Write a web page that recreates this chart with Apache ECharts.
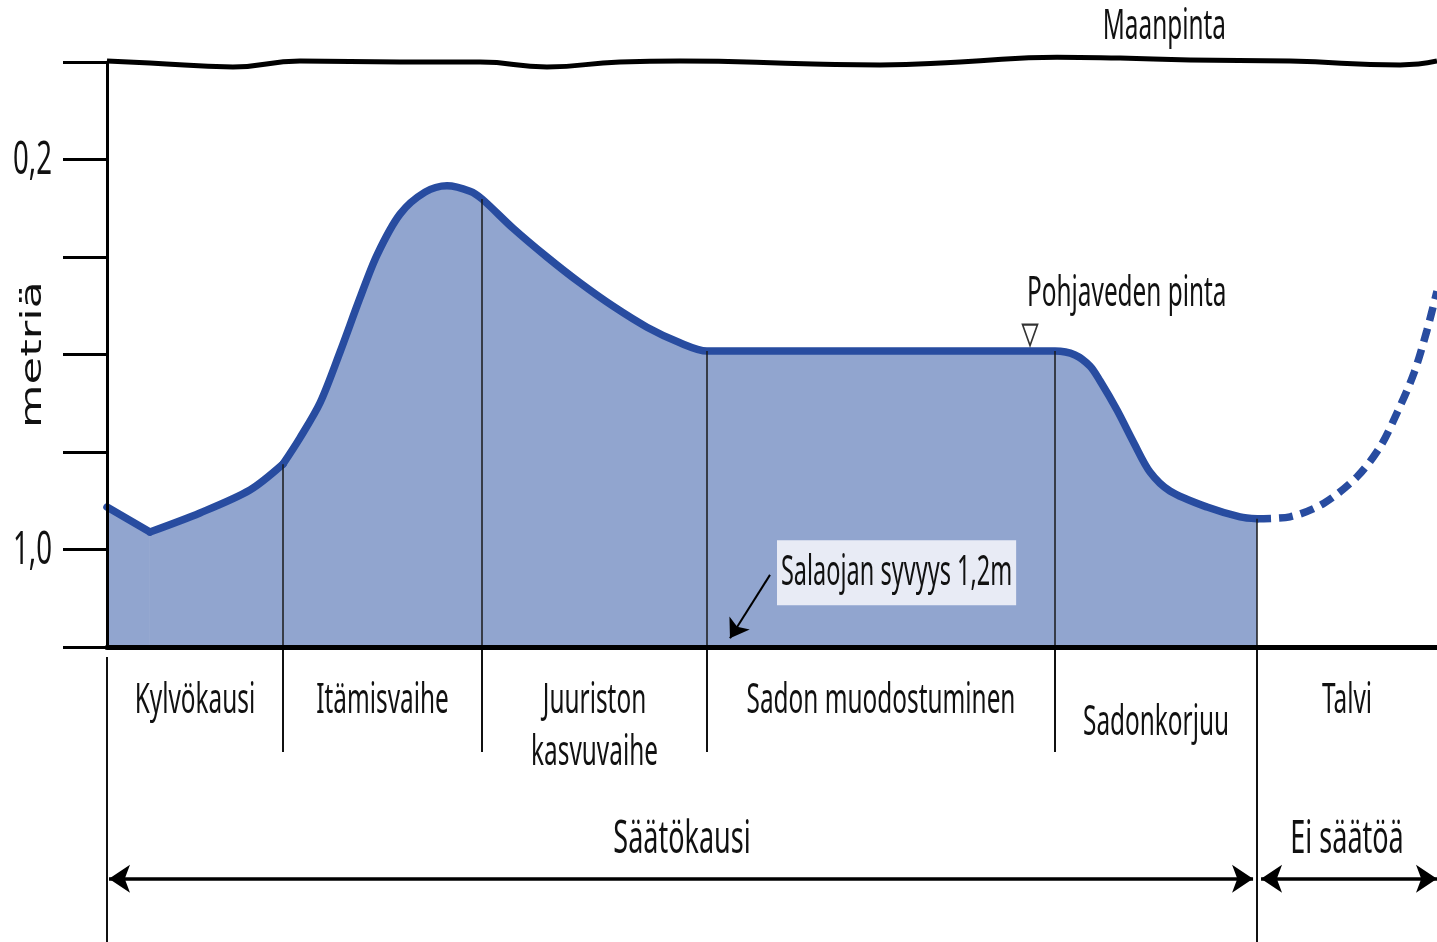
<!DOCTYPE html>
<html>
<head>
<meta charset="utf-8">
<script src="https://cdn.jsdelivr.net/npm/echarts@6/dist/echarts.min.js"></script>
<style>
html,body{margin:0;padding:0;background:#fff;}
#c{width:1437px;height:942px;}
</style>
</head>
<body>
<div id="c"></div>
<script>
// ================= DATA =================
// x: position along the year (0 = start of sowing, 100 = right edge of the diagram)
// y: depth below the ground surface in metres
const phaseBounds = [0, 13.23, 28.20, 45.11, 71.28, 86.47, 100];
const phaseNames = ['Kylvökausi', 'Itämisvaihe', 'Juuriston\nkasvuvaihe', 'Sadon muodostuminen', 'Sadonkorjuu', 'Talvi'];
const seasonNames = ['Säätökausi', 'Ei säätöä'];
const depthTicks = [0, 0.2, 0.4, 0.6, 0.8, 1.0, 1.2];
const depthTickLabels = ['', '0,2', '', '', '', '1,0', ''];
const depthTitle = 'metriä';
const groundLabel = 'Maanpinta';
const waterLabel = 'Pohjaveden pinta';
const drainLabel = 'Salaojan syvyys 1,2m';

// ground surface (slightly wavy line at depth 0)
const groundSurface = [
  [0, -0.002], [3.23, 0.002], [9.47, 0.010], [14.51, -0.002], [22.03, 0], [28.05, 0],
  [33.08, 0.010], [38.57, 0], [43.08, -0.002], [53.08, 0.004], [58.12, 0.006], [64.14, 0],
  [71.43, -0.010], [76.17, -0.008], [81.43, -0.004], [88.95, -0.002], [97.22, 0.006], [100, -0.002]
];
// water table during the controlled season (solid line, filled)
const waterTable = [
  [0, 0.913], [3.23, 0.964], [6.99, 0.925], [10.75, 0.878], [13.23, 0.825],
  [14.51, 0.771], [16.02, 0.699], [17.52, 0.595], [19.02, 0.484], [20.30, 0.396],
  [22.03, 0.312], [23.91, 0.267], [25.56, 0.254], [27.29, 0.265], [28.20, 0.281],
  [30.53, 0.341], [33.08, 0.400], [35.56, 0.453], [38.05, 0.501], [40.60, 0.544],
  [43.08, 0.576], [45.11, 0.593], [46.09, 0.593], [71.28, 0.593], [72.78, 0.601],
  [73.91, 0.624], [74.66, 0.654], [75.94, 0.714], [77.22, 0.782], [78.42, 0.841],
  [79.92, 0.880], [82.71, 0.913], [85.19, 0.933], [86.47, 0.937]
];
// corners (non-smooth points) of the water-table curve
const waterTableCorners = [3.23, 13.23];
// water table in winter (dashed, no regulation)
const waterTableWinter = [
  [86.47, 0.937], [88.95, 0.933], [91.50, 0.905], [93.98, 0.851], [95.71, 0.790],
  [96.99, 0.720], [98.27, 0.638], [99.25, 0.550], [100, 0.470]
];
const waterMarkX = 69.4;          // ▽ symbol on the water table
const drainDepth = 1.2;           // depth of the drain (m)
const drainArrow = [[49.85, 1.052], [46.84, 1.182]];
const groundLabelX = 79.5;

// ================= STYLE / LAYOUT =================
const BLUE = '#284ca0';
const FILL = '#91a5cf';
const BOX = '#e8ebf5';
const INK = '#111';
const FONT = '"Noto Sans", sans-serif';
const SX = 0.58;                  // horizontal condensation of the lettering
// lower panel (grid 1) has a hidden 0..10 vertical scale
const LOW = { labelRow: 1.84, lineStep: 1.76, drop: [0, 0, 0, 0, 0.74, 0], shortDiv: 3.56, seasonRow: 6.55, arrowRow: 7.86, leftStart: 0.34, bottom: 10, arrowInset: 0.15 };

const levelAt = x => { const p = waterTable.find(d => d[0] === x); return p ? p[1] : drainDepth; };

function splitAt(data, xs) {
  const parts = []; let cur = [];
  data.forEach(p => { cur.push(p); if (xs.includes(p[0])) { parts.push(cur); cur = [p]; } });
  if (cur.length > 1) parts.push(cur);
  return parts;
}

const waterSeries = splitAt(waterTable, waterTableCorners).map(part => ({
  type: 'line', xAxisIndex: 0, yAxisIndex: 0, data: part, smooth: part.length > 2 ? 0.3 : false,
  symbol: 'none', z: 3, silent: true,
  lineStyle: { color: BLUE, width: 7.5, cap: 'round', join: 'round' },
  areaStyle: { color: FILL, opacity: 1, origin: 'end' }
}));

const innerBounds = phaseBounds.slice(1, -1);

const option = {
  animation: false,
  backgroundColor: '#fff',
  grid: [
    { left: 107, right: 0, top: 62, height: 585 },
    { left: 107, right: 0, top: 647, bottom: 0 }
  ],
  xAxis: [
    { type: 'value', gridIndex: 0, min: 0, max: 100, z: 10,
      axisLine: { show: true, onZero: false, lineStyle: { color: '#000', width: 5 } },
      axisTick: { show: false }, axisLabel: { show: false }, splitLine: { show: false } },
    { type: 'value', gridIndex: 1, min: 0, max: 100, show: false }
  ],
  yAxis: [
    { type: 'value', gridIndex: 0, min: 0, max: 1.2, interval: 0.2, inverse: true, z: 10,
      axisLine: { show: true, onZero: false, lineStyle: { color: '#000', width: 3 } },
      axisTick: { show: true, length: 44, lineStyle: { color: '#000', width: 3 } },
      axisLabel: { show: false }, splitLine: { show: false } },
    { type: 'value', gridIndex: 1, min: 0, max: LOW.bottom, inverse: true, show: false }
  ],
  series: [
    { type: 'line', xAxisIndex: 0, yAxisIndex: 0, data: groundSurface, smooth: 0.5, symbol: 'none',
      clip: false, z: 4, silent: true, lineStyle: { color: '#000', width: 5 } },
    ...waterSeries,
    { type: 'line', xAxisIndex: 0, yAxisIndex: 0, data: waterTableWinter, smooth: 0.3, symbol: 'none',
      z: 3, silent: true, lineStyle: { color: BLUE, width: 7.5, type: [14, 8] } },
    // phase dividers inside the filled area
    { type: 'lines', coordinateSystem: 'cartesian2d', xAxisIndex: 0, yAxisIndex: 0, z: 5, silent: true,
      lineStyle: { color: '#1a1a1a', width: 1.5, opacity: 1 },
      data: innerBounds.map(b => ({ coords: [[b, levelAt(b)], [b, drainDepth]] })) },
    // ▽ water-table mark
    { type: 'scatter', xAxisIndex: 0, yAxisIndex: 0, data: [[waterMarkX, levelAt(71.28)]], z: 6, silent: true,
      symbol: 'triangle', symbolRotate: 180, symbolSize: [15, 21], symbolOffset: [0, -16],
      itemStyle: { color: '#fff', borderColor: '#000', borderWidth: 1.8 } },
    // drain depth arrow
    { type: 'lines', coordinateSystem: 'cartesian2d', xAxisIndex: 0, yAxisIndex: 0, z: 6, silent: true,
      symbol: ['none', 'arrow'], symbolSize: 18,
      lineStyle: { color: '#000', width: 2, opacity: 1 },
      data: [{ coords: drainArrow }] },
    // phase dividers below the axis
    { type: 'lines', coordinateSystem: 'cartesian2d', xAxisIndex: 1, yAxisIndex: 1, z: 5, silent: true,
      lineStyle: { color: INK, width: 2, opacity: 1 },
      data: [
        ...innerBounds.slice(0, -1).map(b => ({ coords: [[b, 0], [b, LOW.shortDiv]] })),
        { coords: [[phaseBounds[0], LOW.leftStart], [phaseBounds[0], LOW.bottom]] },
        { coords: [[phaseBounds[5], 0], [phaseBounds[5], LOW.bottom]] }
      ] },
    // season arrows
    { type: 'lines', coordinateSystem: 'cartesian2d', xAxisIndex: 1, yAxisIndex: 1, z: 5, silent: true,
      clip: false, symbol: ['arrow', 'arrow'], symbolSize: 21,
      lineStyle: { color: '#000', width: 3.5, opacity: 1 },
      data: [
        { coords: [[phaseBounds[0] + LOW.arrowInset, LOW.arrowRow], [phaseBounds[5] - LOW.arrowInset * 2, LOW.arrowRow]] },
        { coords: [[phaseBounds[5] + LOW.arrowInset * 2, LOW.arrowRow], [phaseBounds[6], LOW.arrowRow]] }
      ] }
  ]
};

const chart = echarts.init(document.getElementById('c'), null, { renderer: 'canvas' });
chart.setOption(option);

const P0 = p => chart.convertToPixel({ xAxisIndex: 0, yAxisIndex: 0 }, p);
const P1 = p => chart.convertToPixel({ xAxisIndex: 1, yAxisIndex: 1 }, p);

function label(pt, text, o = {}) {
  const size = o.size || 42;
  const style = {
    text, x: 0, y: 0,
    font: `${size}px ${o.family || FONT}`,
    fill: INK,
    align: o.align || 'center', textAlign: o.align || 'center',
    verticalAlign: 'middle', textVerticalAlign: 'middle'
  };
  if (o.lineHeight) style.lineHeight = o.lineHeight;
  if (o.bg) { style.backgroundColor = o.bg; style.padding = o.padding; }
  return { type: 'text', x: pt[0] + (o.dx || 0), y: pt[1] + (o.dy || 0), z: 50, silent: true,
           scaleX: o.scaleX || SX, rotation: o.rotation || 0, style };
}

const g = [];
// depth tick labels
depthTicks.forEach((v, i) => {
  if (depthTickLabels[i]) g.push(label(P0([0, v]), depthTickLabels[i], { size: 46, align: 'right', dx: -55, dy: 1, scaleX: 0.6 }));
});
// axis title
g.push(label(P0([0, (depthTicks[0] + depthTicks[depthTicks.length - 1]) / 2]), depthTitle,
  { size: 28, family: '"DejaVu Sans", sans-serif', scaleX: 1.6, rotation: Math.PI / 2, dx: -73 }));
// ground surface label
g.push(label(P0([groundLabelX, 0]), groundLabel, { dy: -35 }));
// water table label
g.push(label(P0([waterMarkX, levelAt(71.28)]), waterLabel, { align: 'left', dx: -3, dy: -57 }));
// drain label (boxed)
g.push(label(P0(drainArrow[0]), drainLabel, { align: 'left', dx: 7, dy: -2, bg: BOX, padding: [8, 7], lineHeight: 49, scaleX: 0.56 }));
// phase labels
phaseNames.forEach((name, i) => {
  const cx = (phaseBounds[i] + phaseBounds[i + 1]) / 2;
  const n = name.split('\n').length;
  const cy = LOW.labelRow + (n - 1) * LOW.lineStep / 2 + LOW.drop[i];
  g.push(label(P1([cx, cy]), name, { lineHeight: 52 }));
});
// season labels
const seasonSpans = [[phaseBounds[0], phaseBounds[5]], [phaseBounds[5], phaseBounds[6]]];
seasonNames.forEach((name, i) => {
  g.push(label(P1([(seasonSpans[i][0] + seasonSpans[i][1]) / 2, LOW.seasonRow]), name, { size: 45, scaleX: 0.6 }));
});

chart.setOption({ graphic: { elements: g } });
</script>
</body>
</html>
